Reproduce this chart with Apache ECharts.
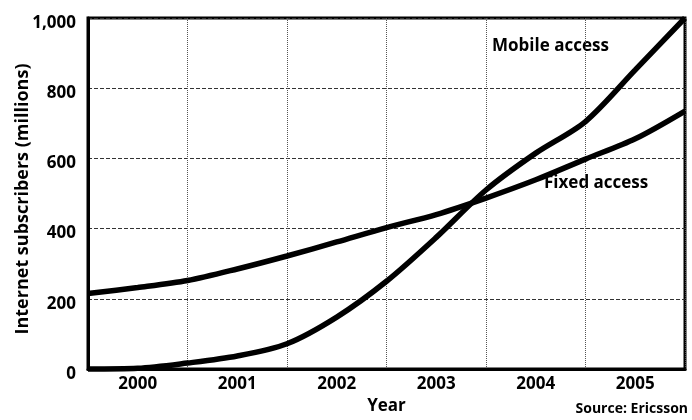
<!DOCTYPE html>
<html><head><meta charset="utf-8">
<script src="https://cdn.jsdelivr.net/npm/echarts@6/dist/echarts.min.js"></script>
<style>html,body{margin:0;padding:0;background:#fff}#c{width:692px;height:420px}</style>
</head><body><div id="c"></div>
<script>
const years = ['2000', '2001', '2002', '2003', '2004', '2005'];
const xPoints = [1999.5, 2000, 2000.5, 2001, 2001.5, 2002, 2002.5, 2003, 2003.5, 2004, 2004.5, 2005, 2005.5];
const fixedAccess = [215, 232, 252, 285, 322, 362, 403, 440, 487, 539, 598, 656, 735];
const mobileAccess = [0, 2, 17, 37, 72, 148, 250, 375, 510, 615, 705, 852, 1000];
const yTickLabels = ['0', '200', '400', '600', '800', '1,000'];

const FONT = 'Open Sans';
const pair = (xs, ys) => xs.map((x, i) => [x, ys[i]]);

const chart = echarts.init(document.getElementById('c'), null, {renderer: 'canvas'});
chart.setOption({
  animation: false,
  backgroundColor: '#fff',
  grid: {left: 88, right: 7, top: 18, bottom: 51, show: true, borderColor: '#000', borderWidth: 3, backgroundColor: 'transparent'},
  xAxis: [
    {
      type: 'value', min: 1999.5, max: 2005.5, interval: 1,
      axisLine: {show: true, lineStyle: {color: '#000', width: 3}},
      axisTick: {show: false}, axisLabel: {show: false},
      splitLine: {show: true, lineStyle: {type: 'dotted', color: '#555', width: 1}}
    },
    {
      type: 'category', data: years, position: 'bottom', boundaryGap: true,
      axisLine: {show: false}, axisTick: {show: false}, splitLine: {show: false},
      axisLabel: {color: '#000', fontFamily: FONT, fontWeight: 'bold', fontSize: 17, margin: 7},
      name: 'Year', nameLocation: 'middle', nameGap: 25,
      nameTextStyle: {color: '#000', fontFamily: FONT, fontWeight: 'bold', fontSize: 17}
    }
  ],
  yAxis: {
    type: 'value', min: 0, max: 1000, interval: 200,
    axisLine: {show: true, lineStyle: {color: '#000', width: 3}},
    axisTick: {show: false},
    axisLabel: {color: '#000', fontFamily: FONT, fontWeight: 'bold', fontSize: 17, margin: 12,
      verticalAlign: 'top', lineHeight: 10,
      formatter: (v) => yTickLabels[Math.round(v / 200)]},
    splitLine: {show: true, lineStyle: {type: 'dashed', color: '#333', width: 1}}
  },
  series: [
    {
      name: 'Fixed access', type: 'line', xAxisIndex: 0, data: pair(xPoints, fixedAccess),
      showSymbol: false, smooth: 0.3, lineStyle: {color: '#000', width: 5.5}, clip: false
    },
    {
      name: 'Mobile access', type: 'line', xAxisIndex: 0, data: pair(xPoints, mobileAccess),
      showSymbol: false, smooth: 0.3, lineStyle: {color: '#000', width: 5.5}, clip: false
    }
  ],
  graphic: [
    {type: 'text', x: 23, y: 199, rotation: Math.PI / 2,
      style: {text: 'Internet subscribers (millions)', fill: '#000', font: 'bold 18px "Open Sans"', align: 'center', verticalAlign: 'middle'}},
    {type: 'text', left: 492, top: 38, style: {text: 'Mobile access', fill: '#000', font: 'bold 17px "Open Sans"'}},
    {type: 'text', left: 544, top: 175, style: {text: 'Fixed access', fill: '#000', font: 'bold 17px "Open Sans"'}},
    {type: 'text', right: 4, top: 402, style: {text: 'Source: Ericsson', fill: '#000', font: 'bold 14px "Open Sans"'}}
  ]
});
</script>
</body></html>
